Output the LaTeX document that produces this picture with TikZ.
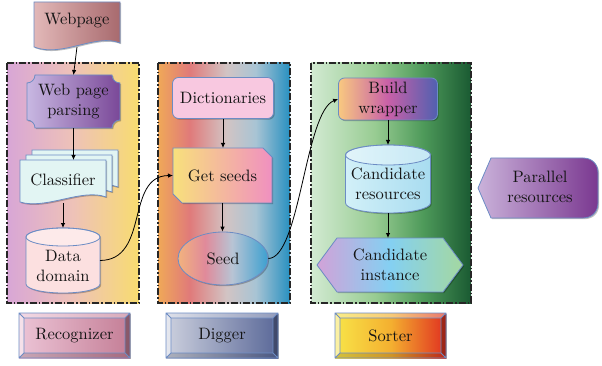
\documentclass[tikz,border=0pt]{standalone}
\usepackage{fontspec}
\setmainfont{lmroman10-regular.otf}
\usetikzlibrary{arrows.meta,shadows,shapes.geometric}
\definecolor{edge}{HTML}{6C8CC4}
\definecolor{txtc}{HTML}{141414}
\definecolor{wpL}{HTML}{E2B8B8}\definecolor{wpR}{HTML}{A86A6E}
\definecolor{rA}{HTML}{D8A6D6}\definecolor{rB}{HTML}{EEC2B8}\definecolor{rC}{HTML}{F8DC70}
\definecolor{dA}{HTML}{F0A858}\definecolor{dB}{HTML}{E07A7A}\definecolor{dC}{HTML}{D2C4C4}\definecolor{dD}{HTML}{A8C4D4}\definecolor{dE}{HTML}{2890C0}
\definecolor{sA}{HTML}{D2EAD2}\definecolor{sB}{HTML}{98CC92}\definecolor{sC}{HTML}{4E9A5A}\definecolor{sD}{HTML}{1A5A32}
\definecolor{wppL}{HTML}{C8B8E2}\definecolor{wppR}{HTML}{7A4898}
\definecolor{clsF}{HTML}{E2F5F3}
\definecolor{ddF}{HTML}{FCE0E0}
\definecolor{dicF}{HTML}{F8C8E0}
\definecolor{gsL}{HTML}{F8E07C}\definecolor{gsR}{HTML}{F090C0}
\definecolor{seA}{HTML}{F2B27E}\definecolor{seB}{HTML}{E08A9A}\definecolor{seC}{HTML}{B8C4D4}\definecolor{seD}{HTML}{3CA0D0}
\definecolor{bwA}{HTML}{F8C880}\definecolor{bwB}{HTML}{C860A8}\definecolor{bwC}{HTML}{5060B0}
\definecolor{crL}{HTML}{D2F0F8}\definecolor{crR}{HTML}{A8DCF0}
\definecolor{ciA}{HTML}{D2A2D8}\definecolor{ciB}{HTML}{84D0F2}\definecolor{ciC}{HTML}{A4D8A0}
\definecolor{prL}{HTML}{CAB2DA}\definecolor{prR}{HTML}{7A3890}
\definecolor{brL}{HTML}{ECC4D6}\definecolor{brR}{HTML}{C47E96}
\definecolor{bdL}{HTML}{CCD0DE}\definecolor{bdR}{HTML}{5A6898}
\definecolor{bsA}{HTML}{F8E448}\definecolor{bsB}{HTML}{F4B030}\definecolor{bsC}{HTML}{E03020}
\pgfdeclarehorizontalshading{recshade}{100bp}{color(0bp)=(rA); color(25bp)=(rA); color(50bp)=(rB); color(75bp)=(rC); color(100bp)=(rC)}
\pgfdeclarehorizontalshading{digshade}{100bp}{color(0bp)=(dA); color(25bp)=(dA); color(37bp)=(dB); color(51bp)=(dC); color(62bp)=(dD); color(75bp)=(dE); color(100bp)=(dE)}
\pgfdeclarehorizontalshading{sorshade}{100bp}{color(0bp)=(sA); color(25bp)=(sA); color(45bp)=(sB); color(60bp)=(sC); color(75bp)=(sD); color(100bp)=(sD)}
\pgfdeclarehorizontalshading{seedshade}{100bp}{color(0bp)=(seA); color(25bp)=(seA); color(40bp)=(seB); color(55bp)=(seC); color(75bp)=(seD); color(100bp)=(seD)}
\pgfdeclarehorizontalshading{bwshade}{100bp}{color(0bp)=(bwA); color(25bp)=(bwA); color(50bp)=(bwB); color(75bp)=(bwC); color(100bp)=(bwC)}
\pgfdeclarehorizontalshading{cishade}{100bp}{color(0bp)=(ciA); color(25bp)=(ciA); color(50bp)=(ciB); color(75bp)=(ciC); color(100bp)=(ciC)}
\pgfdeclarehorizontalshading{bsshade}{100bp}{color(0bp)=(bsA); color(25bp)=(bsA); color(50bp)=(bsB); color(75bp)=(bsC); color(100bp)=(bsC)}
\tikzset{
  panel/.style={draw=black!85, line width=1.1pt, dash pattern=on 7pt off 2pt on 1.5pt off 2pt},
  shp/.style={draw=edge, line width=0.8pt, drop shadow={shadow xshift=1.2pt,shadow yshift=-1.2pt,opacity=0.25,fill=black}},
  lbl/.style={font=\fontsize{16.5}{20}\selectfont, text=txtc, align=center, inner sep=0pt},
  anch/.style={inner sep=0pt, outer sep=0pt},
  arr/.style={-{Latex[length=5pt,width=4.5pt]}, line width=0.8pt, black},
}
\newcommand\docshape[5]{% style, x1, y1, x2, ybase
  \path[#1] (#2,#3) -- (#4,#3) -- (#4,{#5-3}) .. controls ({#4-0.28*(#4-#2)},{#5-12}) and ({#2+0.3*(#4-#2)},{#5+10}) .. (#2,{#5+2}) -- cycle;}
\newcommand\cylshape[6]{% cx, ytop, ybot, rx, ry, style
  \path[#6] ({#1-#4},{#2+#5}) -- ({#1-#4},{#3-#5}) arc[start angle=180,end angle=0,x radius=#4,y radius=#5] -- ({#1+#4},{#2+#5}) arc[start angle=360,end angle=180,x radius=#4,y radius=#5] -- cycle;
  \path[draw=edge, line width=0.8pt, fill=white, fill opacity=0.35] (#1,{#2+#5}) ellipse[x radius=#4,y radius=#5];}
\newcommand\btnshape[5]{% x1 y1 x2 y2 style
  \path[#5, drop shadow={shadow xshift=1.2pt,shadow yshift=-1.2pt,opacity=0.3,fill=black}] (#1,#2) rectangle (#3,#4);
  \fill[white, opacity=0.35] (#1,#2) -- (#3,#2) -- ({#3-5},{#2+5}) -- ({#1+5},{#2+5}) -- cycle;
  \fill[white, opacity=0.5] (#1,#2) -- ({#1+5},{#2+5}) -- ({#1+5},{#4-5}) -- (#1,#4) -- cycle;
  \fill[black, opacity=0.15] (#1,#4) -- ({#1+5},{#4-5}) -- ({#3-5},{#4-5}) -- (#3,#4) -- cycle;
  \fill[black, opacity=0.3] (#3,#2) -- ({#3-5},{#2+5}) -- ({#3-5},{#4-5}) -- (#3,#4) -- cycle;
  \draw[edge, line width=0.8pt] (#1,#2) rectangle (#3,#4) ({#1+5},{#2+5}) rectangle ({#3-5},{#4-5})
    (#1,#2) -- ({#1+5},{#2+5}) (#3,#2) -- ({#3-5},{#2+5}) (#1,#4) -- ({#1+5},{#4-5}) (#3,#4) -- ({#3-5},{#4-5});}
\begin{document}
\begin{tikzpicture}[x=1pt,y=-1pt]
\useasboundingbox (0,0) rectangle (602,366);
% panels
\path[panel, shading=recshade] (7,63) rectangle (139,303);
\path[panel, shading=digshade] (158,63) rectangle (290,303);
\path[panel, shading=sorshade] (311,63) rectangle (471,303);
% Webpage
\path[shp, left color=wpL, right color=wpR] (34,2) -- (120,2) -- (120,43) .. controls (96,33) and (62,58) .. (34,47) -- cycle;
\node[anch, minimum width=86pt, minimum height=45pt] (web) at (77,24.5) {};
\node[lbl] (webt) at (77,20) {Webpage};
% Web page parsing
\path[shp, left color=wppL, right color=wppR] (35,75) -- (112,75) .. controls (112,79.4) and (115.6,83) .. (120,83) -- (120,120) .. controls (115.6,120) and (112,123.6) .. (112,128) -- (35,128) .. controls (35,123.6) and (31.4,120) .. (27,120) -- (27,83) .. controls (31.4,83) and (35,79.4) .. (35,75) -- cycle;
\node[anch, minimum width=93pt, minimum height=53pt] (wpp) at (73.5,101.5) {};
\node[lbl] (wppt) at (73.5,101.5) {Web page\\parsing};
% Classifier
\docshape{shp, fill=clsF}{32}{150}{118}{190}
\docshape{shp, fill=clsF}{26}{155}{112}{195}
\docshape{shp, fill=clsF}{20}{160}{106}{200}
\node[anch, minimum width=86pt, minimum height=43pt] (cls) at (63,181.5) {};
\node[lbl] (clst) at (63,180) {Classifier};
% Data domain
\cylshape{63}{228}{293}{37}{9}{shp, fill=ddF}
\node[anch, minimum width=74pt, minimum height=65pt] (dd) at (63,260.5) {};
\node[lbl] (ddt) at (63,266) {Data\\domain};
% Dictionaries
\node[lbl, shp, rounded corners=6pt, fill=dicF, minimum width=101pt, minimum height=41pt] (dic) at (223,98) {Dictionaries};
% Get seeds
\path[shp, left color=gsL, right color=gsR] (173,148) -- (263,148) -- (272,157) -- (272,203) -- (182,203) -- (173,194) -- cycle;
\node[anch, minimum width=99pt, minimum height=55pt] (gs) at (222.5,175.5) {};
\node[lbl] (gst) at (222.5,175.5) {Get seeds};
% Seed
\node[lbl, shp, ellipse, shading=seedshade, minimum width=90pt, minimum height=53pt] (seed) at (223,258.5) {Seed};
% Build wrapper
\node[lbl, shp, rounded corners=6pt, shading=bwshade, minimum width=99pt, minimum height=42pt] (bw) at (388,99) {Build\\wrapper};
% Candidate resources
\cylshape{388}{145}{213}{42.5}{10}{shp, left color=crL, right color=crR}
\node[anch, minimum width=85pt, minimum height=68pt] (cr) at (388,179) {};
\node[lbl] (crt) at (388,184) {Candidate\\resources};
% Candidate instance
\path[shp, shading=cishade] (317,265) -- (337,238) -- (443,238) -- (463,265) -- (443,292) -- (337,292) -- cycle;
\node[anch, minimum width=146pt, minimum height=54pt] (ci) at (390,265) {};
\node[lbl] (cit) at (390,265) {Candidate\\instance};
% Parallel resources
\path[shp, left color=prL, right color=prR] (478,188) -- (491,158) -- (583,158) .. controls (592,158) and (598,164) .. (598,173) -- (598,203) .. controls (598,212) and (592,218) .. (583,218) -- (491,218) -- cycle;
\node[lbl] (pr) at (540,187) {Parallel\\resources};
% buttons
\btnshape{19}{313}{130}{358}{left color=brL, right color=brR}
\node[lbl] (rec) at (74.5,335.5) {Recognizer};
\btnshape{166}{313}{278}{358}{left color=bdL, right color=bdR}
\node[lbl] (dig) at (222,335.5) {Digger};
\btnshape{335}{313}{446}{358}{shading=bsshade}
\node[lbl] (sor) at (390.5,335.5) {Sorter};
% arrows
\draw[arr] (web.south) -- (wpp.north);
\draw[arr] (wpp.south) -- (wpp.south |- cls.north);
\draw[arr] (cls.south) -- (dd.north);
\draw[arr] (dic.south) -- (dic.south |- gs.north);
\draw[arr] (gs.south) -- (gs.south |- seed.north);
\draw[arr] (bw.south) -- (cr.north);
\draw[arr] (cr.south) -- (cr.south |- ci.north);
\draw[arr] (dd.east) .. controls (150,260) and (125,176) .. (gs.west);
\draw[arr] (seed.east) .. controls (300,258) and (305,112) .. (bw.west);
\end{tikzpicture}
\end{document}
